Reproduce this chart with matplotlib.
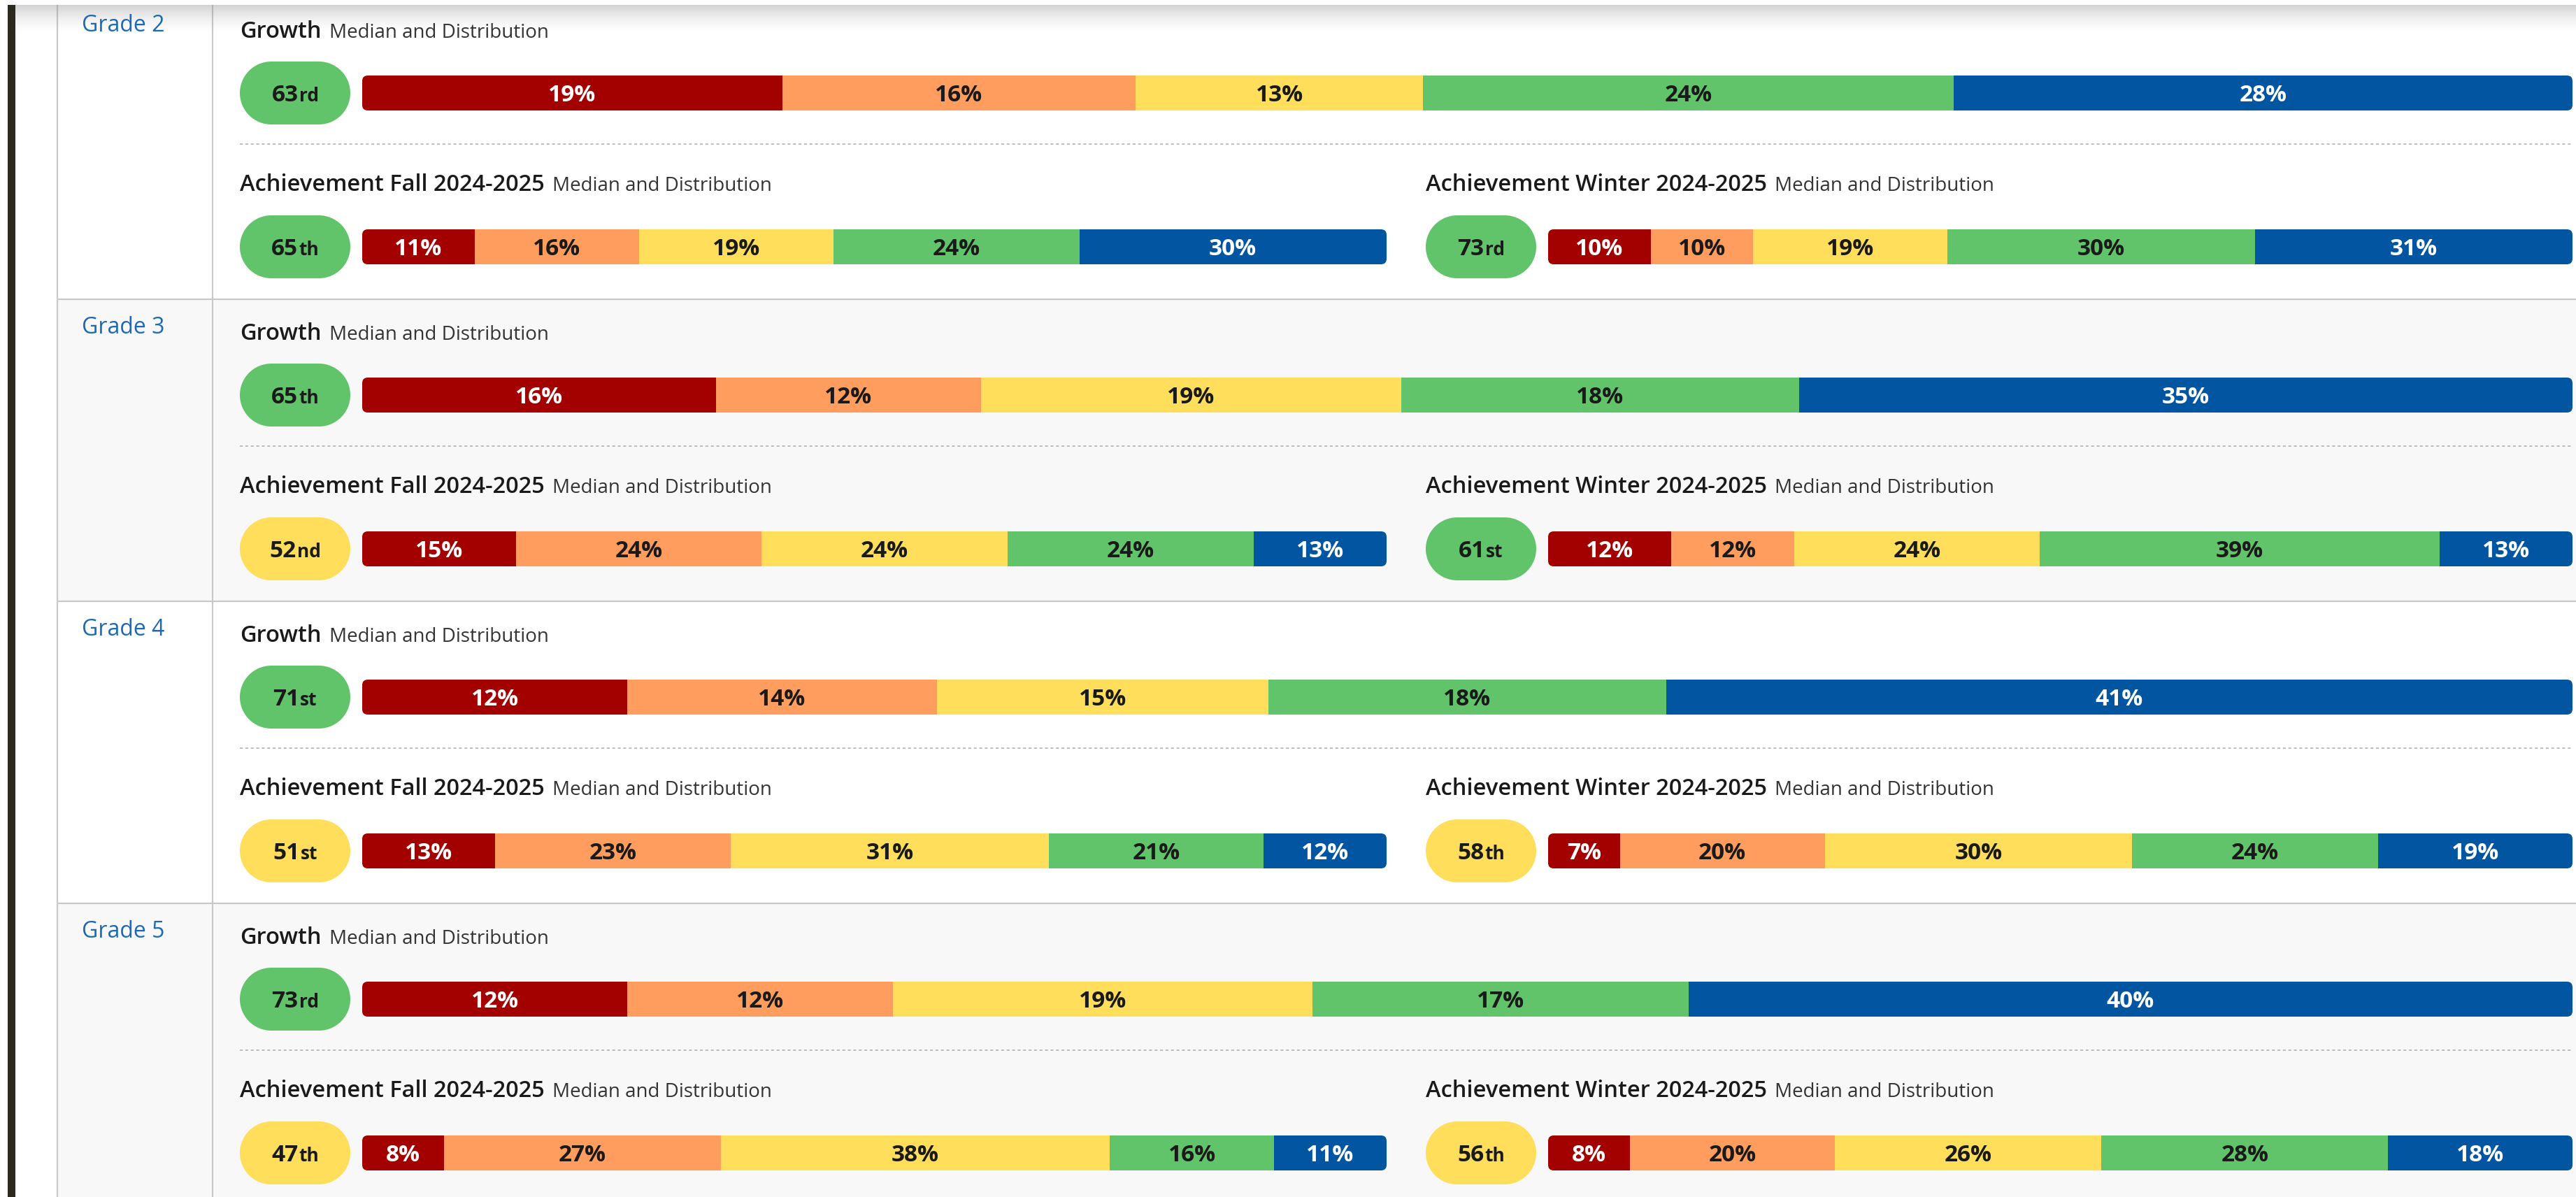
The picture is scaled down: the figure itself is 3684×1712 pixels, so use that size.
import matplotlib
matplotlib.use("Agg")
import matplotlib.pyplot as plt
from matplotlib.patches import FancyBboxPatch, Rectangle, Circle
from matplotlib.transforms import ScaledTranslation
import numpy as np

# ---------------- data ----------------
grades = ["Grade 2", "Grade 3", "Grade 4", "Grade 5"]
growth_median = [63, 65, 71, 73]
growth_dist = [[19, 16, 13, 24, 28],
               [16, 12, 19, 18, 35],
               [12, 14, 15, 18, 41],
               [12, 12, 19, 17, 40]]
fall_median = [65, 52, 51, 47]
fall_dist = [[11, 16, 19, 24, 30],
             [15, 24, 24, 24, 13],
             [13, 23, 31, 21, 12],
             [8, 27, 38, 16, 11]]
winter_median = [73, 61, 58, 56]
winter_dist = [[10, 10, 19, 30, 31],
               [12, 12, 24, 39, 13],
               [7, 20, 30, 24, 19],
               [8, 20, 26, 28, 18]]
quintile_edges = [20, 40, 60, 80]
section_titles = ["Growth", "Achievement Fall 2024-2025", "Achievement Winter 2024-2025"]
subtitle = "Median and Distribution"

# ---------------- style ----------------
SEG_COLORS = ["#A30000", "#FE9D5D", "#FEDE5B", "#62C46A", "#0155A1"]
SEG_TEXT = ["white", "#1a1a1a", "#1a1a1a", "#1a1a1a", "white"]
GRADE_COLOR = "#1c69b4"
LINE_COLOR = "#c9c9c9"
ROW_BG = ["white", "#f8f8f8"]

plt.rcParams['font.family'] = ['Open Sans', 'DejaVu Sans']

W, H = 3684, 1712
DPI = 100
fig = plt.figure(figsize=(W / DPI, H / DPI), dpi=DPI)
fig.patch.set_facecolor("white")
bg = fig.add_axes([0, 0, 1, 1], zorder=0)
bg.set_xlim(0, W)
bg.set_ylim(H, 0)
bg.axis('off')
renderer = fig.canvas.get_renderer()

ROW_H = 432
ROW0 = -4
TABLE_L, COL_X = 82, 304
CONTENT_L = 343
WINTER_L = 2039
BAR_L = 518
BAR_R = 3679
FALL_R = 1983
WINTER_BAR_L = 2214
BH = 50
BR = 8
PW, PH = 158, 90


def ordinal(n):
    if 10 <= n % 100 <= 20:
        return "th"
    return {1: "st", 2: "nd", 3: "rd"}.get(n % 10, "th")


def median_color(v):
    return SEG_COLORS[int(np.searchsorted(quintile_edges, v, side='left'))]


def inline_texts(x, y, parts, gap):
    """parts: list of (text, kwargs). y is baseline in bg coords"""
    objs = []
    cur = x
    for s, kw in parts:
        t = bg.text(cur, y, s, va='baseline', ha='left', zorder=5, **kw)
        w = t.get_window_extent(renderer).width
        objs.append((t, w))
        cur += w + gap
    return objs


def pill(cx, cy, value):
    col = median_color(value)
    r = PH / 2
    bg.add_patch(Rectangle((cx - PW / 2 + r, cy - r), PW - 2 * r, PH, facecolor=col,
                           edgecolor='none', zorder=3))
    for c in (cx - PW / 2 + r, cx + PW / 2 - r):
        bg.add_patch(Circle((c, cy), r, facecolor=col, edgecolor='none', zorder=3))
    gap = 1
    objs = inline_texts(0, cy + 12, [(str(value), dict(fontsize=24, weight='bold', color='#1a1a1a')),
                                     (ordinal(value), dict(fontsize=19, weight='bold', color='#1a1a1a'))], gap)
    total = sum(w for _, w in objs) + gap
    x = cx - total / 2
    for t, w in objs:
        t.set_x(x)
        x += w + gap


def bar(x0, x1, cy, dist):
    ax = fig.add_axes([x0 / W, 1 - (cy + BH / 2) / H, (x1 - x0) / W, BH / H], zorder=2)
    ax.set_xlim(0, sum(dist))
    ax.set_ylim(-0.5, 0.5)
    ax.axis('off')
    clip = FancyBboxPatch((x0, cy - BH / 2), x1 - x0, BH,
                          boxstyle=f"round,pad=0,rounding_size={BR}",
                          transform=bg.transData)
    lefts = np.concatenate([[0], np.cumsum(dist)[:-1]])
    bars = ax.barh(0, dist, left=lefts, height=1.0, color=SEG_COLORS, linewidth=0)
    for b in bars:
        b.set_clip_path(clip)
    off = ScaledTranslation(0, -12 / DPI, fig.dpi_scale_trans)
    for l, v, tc in zip(lefts, dist, SEG_TEXT):
        ax.text(l + v / 2, 0, f"{v}%", ha='center', va='baseline', fontsize=24,
                weight='bold', color=tc, transform=ax.transData + off)


# ---------------- table structure ----------------
bg.add_patch(Rectangle((22, 0), TABLE_L - 22, H, facecolor='white', edgecolor='none', zorder=0))
for i, g in enumerate(grades):
    top = ROW0 + ROW_H * i
    bg.add_patch(Rectangle((TABLE_L, top), W - TABLE_L, ROW_H, facecolor=ROW_BG[i % 2],
                           edgecolor='none', zorder=0))
    if i > 0:
        bg.plot([TABLE_L, W], [top, top], color=LINE_COLOR, lw=1.6, zorder=1,
                solid_capstyle='butt')
    # grade label
    bg.text(117, top + 49, g, fontsize=23, weight='medium', color=GRADE_COLOR,
            va='baseline', ha='left', zorder=5)
    # titles
    sub_kw = dict(fontsize=20, color='#333333')
    tit_kw = dict(fontsize=23.5, weight='semibold', color='#1a1a1a')
    inline_texts(CONTENT_L, top + 58, [(section_titles[0], tit_kw), (subtitle, sub_kw)], 11)
    inline_texts(CONTENT_L, top + 277, [(section_titles[1], tit_kw), (subtitle, sub_kw)], 11)
    inline_texts(WINTER_L, top + 277, [(section_titles[2], tit_kw), (subtitle, sub_kw)], 11)
    # dotted separator
    bg.plot([CONTENT_L, BAR_R], [top + 210, top + 210], color='#b3b3b3', lw=1.2,
            linestyle=(0, (2.5, 2.2)), zorder=1)
    # pills and bars
    gy = top + 137
    ay = top + 357
    pill(CONTENT_L + PW / 2, gy, growth_median[i])
    bar(BAR_L, BAR_R, gy, growth_dist[i])
    pill(CONTENT_L + PW / 2, ay, fall_median[i])
    bar(BAR_L, FALL_R, ay, fall_dist[i])
    pill(WINTER_L + PW / 2, ay, winter_median[i])
    bar(WINTER_BAR_L, BAR_R, ay, winter_dist[i])

# vertical table lines
for xv in (TABLE_L, COL_X):
    bg.plot([xv, xv], [0, H], color=LINE_COLOR, lw=1.6, zorder=1, solid_capstyle='butt')

# dark page strip at the far left
bg.add_patch(Rectangle((11, 7), 11, H, facecolor='#2c2a1e', edgecolor='none', zorder=6))

# top header shadow
n = 40
grad = np.zeros((n, 1, 4))
grad[..., 0:3] = 0.55
grad[:, 0, 3] = np.linspace(0.55, 0.0, n) ** 1.6
bg.imshow(grad, extent=[22, W, 48, 7], aspect='auto', zorder=4, interpolation='bilinear')
bg.add_patch(Rectangle((0, 0), W, 7, facecolor='white', edgecolor='none', zorder=7))

bg.set_xlim(0, W)
bg.set_ylim(H, 0)

fig.savefig("out.png", dpi=DPI, facecolor='white')
